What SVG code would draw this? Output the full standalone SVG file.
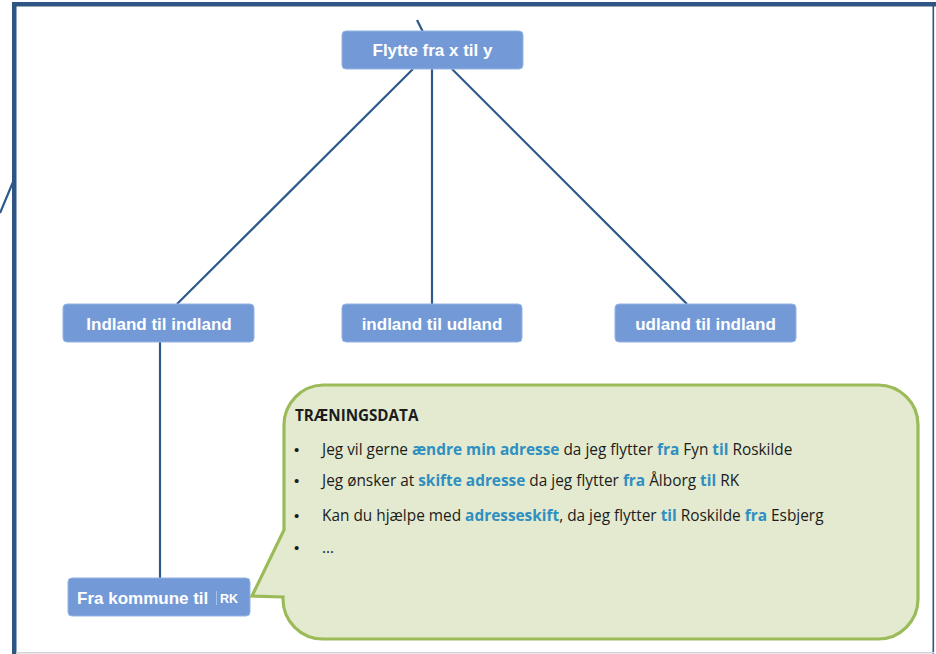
<svg xmlns="http://www.w3.org/2000/svg" width="936" height="654" viewBox="0 0 936 654">
<style>
.box{fill:#739ad7;stroke:#94b3e4;stroke-width:1}
.bt{font-family:"Liberation Sans",Arial,sans-serif;font-weight:bold;font-size:17px;fill:#ffffff;text-anchor:middle}
.con{stroke:#2d5a8b;stroke-width:2.2;fill:none}
.tx{font-family:"Open Sans","Liberation Sans",Arial,sans-serif;font-size:15.4px;fill:#1c1c1c}
.bu{font-family:"Liberation Sans",Arial,sans-serif;font-size:15px;fill:#1c1c1c}
.hl{fill:#2f8fc1;font-weight:bold}
</style>
<rect x="0" y="0" width="936" height="654" fill="#ffffff"/>
<g id="frame">
<rect x="12" y="2" width="924" height="4.5" fill="#2f5584"/>
<rect x="12" y="2" width="4.5" height="652" fill="#2f5584"/>
<rect x="932.5" y="2" width="1.6" height="652" fill="#2f5584"/>
<rect x="16" y="652" width="918" height="1.5" fill="#d2d3da"/>
</g>
<g id="connectors">
<line class="con" x1="417" y1="20" x2="423" y2="32"/>
<line class="con" x1="0" y1="213" x2="13" y2="182"/>
<line class="con" x1="413" y1="69" x2="177" y2="304"/>
<line class="con" x1="432" y1="69" x2="432" y2="304"/>
<line class="con" x1="452" y1="69" x2="687" y2="304"/>
<line class="con" x1="160" y1="342" x2="160" y2="578"/>
</g>
<g id="node-top">
<rect class="box" x="342" y="31" width="181" height="38" rx="4"/>
<text class="bt" x="432.5" y="56">Flytte fra x til y</text>
</g>
<g id="node-indland-indland">
<rect class="box" x="63" y="304" width="191" height="38" rx="4"/>
<text class="bt" x="159" y="330">Indland til indland</text>
</g>
<g id="node-indland-udland">
<rect class="box" x="342" y="304" width="180" height="38" rx="4"/>
<text class="bt" x="432" y="330">indland til udland</text>
</g>
<g id="node-udland-indland">
<rect class="box" x="615" y="304" width="181" height="38" rx="4"/>
<text class="bt" x="705.5" y="330">udland til indland</text>
</g>
<g id="node-kommune">
<rect class="box" x="68" y="578" width="182" height="38" rx="4"/>
<text class="bt" x="77" y="604" style="text-anchor:start">Fra kommune til</text>
<line x1="216.5" y1="591" x2="216.5" y2="605" stroke="#a9c2ea" stroke-width="1"/>
<text class="bt" x="220" y="603" style="text-anchor:start;font-size:12.5px">RK</text>
</g>
<g id="callout">
<path d="M 323 385 H 878 A 40 40 0 0 1 918 425 V 599 A 40 40 0 0 1 878 639 H 323 A 40 40 0 0 1 283 599 V 597 L 252 596 L 284 530 V 425 A 40 40 0 0 1 323 385 Z" fill="#e3eacf" stroke="#9bbb59" stroke-width="3.2" stroke-linejoin="miter"/>
<text class="tx" x="295" y="421" style="font-weight:bold;font-size:15.2px">TRÆNINGSDATA</text>
<text class="bu" x="294" y="455">•</text>
<text class="tx" x="322" y="455">Jeg vil gerne <tspan class="hl">ændre min adresse</tspan> da jeg flytter <tspan class="hl">fra</tspan> Fyn <tspan class="hl">til</tspan> Roskilde</text>
<text class="bu" x="294" y="486">•</text>
<text class="tx" x="322" y="486">Jeg ønsker at <tspan class="hl">skifte adresse</tspan> da jeg flytter <tspan class="hl">fra</tspan> Ålborg <tspan class="hl">til</tspan> RK</text>
<text class="bu" x="294" y="521">•</text>
<text class="tx" x="322" y="521">Kan du hjælpe med <tspan class="hl">adresseskift</tspan>, da jeg flytter <tspan class="hl">til</tspan> Roskilde <tspan class="hl">fra</tspan> Esbjerg</text>
<text class="bu" x="294" y="553">•</text>
<text class="tx" x="322" y="553">…</text>
</g>
</svg>
